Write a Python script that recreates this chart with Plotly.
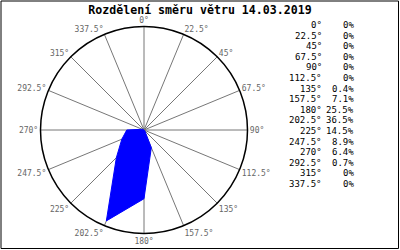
import plotly.graph_objects as go

directions = [0, 22.5, 45, 67.5, 90, 112.5, 135, 157.5, 180, 202.5, 225, 247.5, 270, 292.5, 315, 337.5]
dir_labels = ["0°", "22.5°", "45°", "67.5°", "90°", "112.5°", "135°", "157.5°",
              "180°", "202.5°", "225°", "247.5°", "270°", "292.5°", "315°", "337.5°"]
percent = [0, 0, 0, 0, 0, 0, 0.4, 7.1, 25.5, 36.5, 14.5, 8.9, 6.4, 0.7, 0, 0]
percent_labels = ["0%", "0%", "0%", "0%", "0%", "0%", "0.4%", "7.1%", "25.5%", "36.5%",
                  "14.5%", "8.9%", "6.4%", "0.7%", "0%", "0%"]
title_text = "Rozdělení směru větru 14.03.2019"

W, H = 400, 250
cx, cy, rad = 144, 130, 103.5

fig = go.Figure()
fig.add_trace(go.Scatterpolar(
    r=percent + [percent[0]],
    theta=directions + [directions[0]],
    mode="lines",
    fill="toself",
    fillcolor="#0000FF",
    line=dict(color="#0000FF", width=1),
    hoverinfo="skip",
    showlegend=False,
))

mono = "DejaVu Sans Mono"

fig.update_layout(
    width=W, height=H,
    margin=dict(l=0, r=0, t=0, b=0),
    paper_bgcolor="white",
    plot_bgcolor="white",
    title=dict(text=title_text, x=0.5, xanchor="center", xref="paper",
               y=1 - 9.5 / H, yanchor="middle", yref="container",
               font=dict(family=mono, size=11.6, color="black", weight="bold")),
    polar=dict(
        domain=dict(x=[(cx - rad) / W, (cx + rad) / W],
                    y=[1 - (cy + rad) / H, 1 - (cy - rad) / H]),
        bgcolor="white",
        radialaxis=dict(range=[0, 38.4], showgrid=False, showticklabels=False,
                        showline=False, ticks=""),
        angularaxis=dict(direction="clockwise", rotation=90,
                         tickmode="array", tickvals=directions, ticktext=dir_labels,
                         showline=True, linecolor="black", linewidth=1.5,
                         showgrid=True, gridcolor="#777777", gridwidth=1,
                         ticks="",
                         tickfont=dict(family=mono, size=8, color="#666666")),
    ),
)

# Legend table on the right
row0, step = 25.0, 10.6
for i, (dl, pl) in enumerate(zip(dir_labels, percent_labels)):
    y = 1 - (row0 + i * step) / H
    fig.add_annotation(text=dl, x=323.5 / W, y=y, xref="paper", yref="paper",
                       xanchor="right", yanchor="middle", showarrow=False,
                       font=dict(family=mono, size=9, color="black"))
    fig.add_annotation(text=pl, x=356 / W, y=y, xref="paper", yref="paper",
                       xanchor="right", yanchor="middle", showarrow=False,
                       font=dict(family=mono, size=9, color="black"))

# Outer frame
fig.add_shape(type="rect", xref="paper", yref="paper",
              x0=1 / W, x1=(W - 1.5) / W, y0=1.5 / H, y1=1 - 1 / H,
              line=dict(color="black", width=1), fillcolor="rgba(0,0,0,0)")

fig.write_html("out.html")
